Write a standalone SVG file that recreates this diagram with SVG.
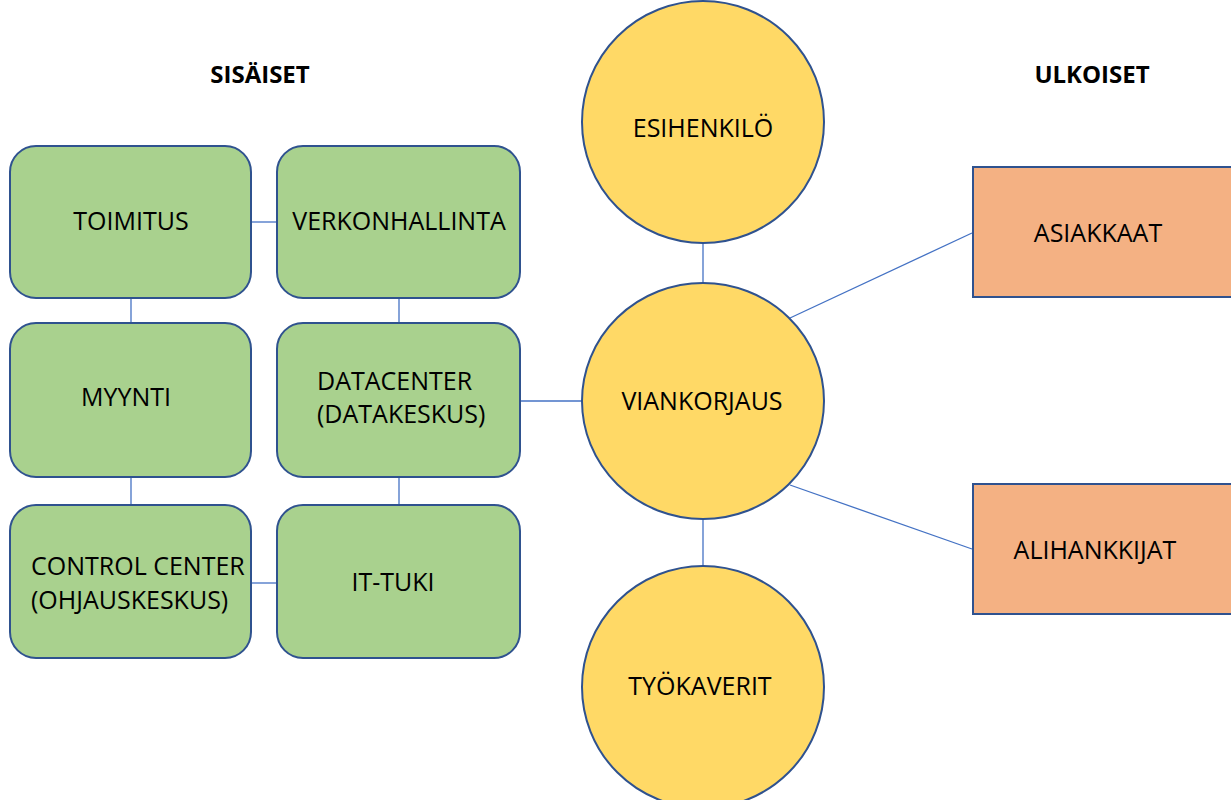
<svg xmlns="http://www.w3.org/2000/svg" width="1231" height="800" viewBox="0 0 1231 800">
<style>
.g{fill:#A9D18E;stroke:#2F528F;stroke-width:2}
.y{fill:#FFD966;stroke:#2F528F;stroke-width:2}
.o{fill:#F4B183;stroke:#2F528F;stroke-width:2}
.t{font-family:"Open Sans",sans-serif;font-size:25px;fill:#000}
.c{text-anchor:middle}
.h{font-family:"Open Sans",sans-serif;font-size:24px;font-weight:bold;fill:#000;text-anchor:middle}
.ln{stroke:#4472C4;stroke-width:1.3;fill:none}
</style>
<rect width="1231" height="800" fill="#fff"/>
<text class="h" x="260" y="83">SISÄISET</text>
<text class="h" x="1092" y="83">ULKOISET</text>
<g id="connectors">
<line class="ln" x1="251" y1="222" x2="277" y2="222"/>
<line class="ln" x1="131" y1="298" x2="131" y2="323"/>
<line class="ln" x1="399" y1="298" x2="399" y2="323"/>
<line class="ln" x1="131" y1="477" x2="131" y2="505"/>
<line class="ln" x1="399" y1="477" x2="399" y2="505"/>
<line class="ln" x1="251" y1="583" x2="277" y2="583"/>
<line class="ln" x1="520" y1="401" x2="582" y2="401"/>
<line class="ln" x1="703" y1="243" x2="703" y2="283"/>
<line class="ln" x1="703" y1="518" x2="703" y2="566"/>
<line class="ln" x1="790" y1="318" x2="972" y2="233"/>
<line class="ln" x1="790" y1="485" x2="972" y2="549"/>
</g>
<g id="toimitus"><rect class="g" x="10" y="146" width="241" height="152" rx="26"/><text class="t c" x="131" y="230">TOIMITUS</text></g>
<g id="verkonhallinta"><rect class="g" x="277" y="146" width="243" height="152" rx="26"/><text class="t c" x="399" y="230">VERKONHALLINTA</text></g>
<g id="myynti"><rect class="g" x="10" y="323" width="241" height="154" rx="26"/><text class="t c" x="126" y="406">MYYNTI</text></g>
<g id="datacenter"><rect class="g" x="277" y="323" width="243" height="154" rx="26"/><text class="t" x="317" y="390">DATACENTER</text><text class="t" x="317" y="423">(DATAKESKUS)</text></g>
<g id="controlcenter"><rect class="g" x="10" y="505" width="241" height="153" rx="26"/><text class="t" x="31" y="575">CONTROL CENTER</text><text class="t" x="31" y="609">(OHJAUSKESKUS)</text></g>
<g id="ittuki"><rect class="g" x="277" y="505" width="243" height="153" rx="26"/><text class="t c" x="393" y="591">IT-TUKI</text></g>
<g id="esihenkilo"><circle class="y" cx="703" cy="122" r="121"/><text class="t c" x="703" y="137">ESIHENKILÖ</text></g>
<g id="viankorjaus"><ellipse class="y" cx="703" cy="401" rx="121" ry="118"/><text class="t c" x="702" y="410">VIANKORJAUS</text></g>
<g id="tyokaverit"><circle class="y" cx="703" cy="687" r="121"/><text class="t c" x="700" y="695">TYÖKAVERIT</text></g>
<g id="asiakkaat"><rect class="o" x="973" y="167" width="262" height="130"/><text class="t c" x="1098" y="242">ASIAKKAAT</text></g>
<g id="alihankkijat"><rect class="o" x="973" y="484" width="262" height="130"/><text class="t c" x="1095" y="559">ALIHANKKIJAT</text></g>
</svg>
